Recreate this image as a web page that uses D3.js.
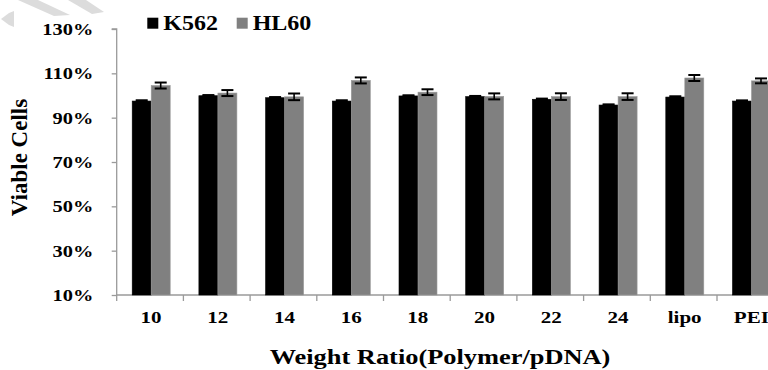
<!DOCTYPE html>
<html>
<head>
<meta charset="utf-8">
<script src="https://cdn.jsdelivr.net/npm/d3@7"></script>
<style>
  html, body { margin: 0; padding: 0; background: #fff; }
  svg { display: block; }
</style>
</head>
<body>
<svg id="chart" width="768" height="370"></svg>
<script>
// ---- data ----
const categories = ["10", "12", "14", "16", "18", "20", "22", "24", "lipo", "PEI"];
const seriesNames = ["K562", "HL60"];
const k562 = [97.5, 99.9, 99.0, 97.5, 99.8, 99.5, 98.3, 95.7, 99.3, 97.5];
const k562Err = [0.35, 0.3, 0.3, 0.35, 0.3, 0.3, 0.3, 0.3, 0.35, 0.3];
const hl60 = [104.5, 101.1, 99.4, 106.8, 101.5, 99.6, 99.5, 99.5, 107.9, 106.6];
const hl60Err = [1.35, 1.35, 1.5, 1.35, 1.3, 1.35, 1.5, 1.5, 1.35, 1.1];
const yTicks = [10, 30, 50, 70, 90, 110, 130];
const xTitle = "Weight Ratio(Polymer/pDNA)";
const yTitle = "Viable Cells";

const colors = { K562: "#000000", HL60: "#808080" };
const SX = 1.2; // horizontal stretch of the reference's texts
const FONT = "'Liberation Serif', 'Times New Roman', Times, 'DejaVu Serif', serif";

const svg = d3.select("#chart");

// faint watermark shapes at top-left
const wm = svg.append("g").attr("fill", "#dcdcdc");
wm.append("polygon").attr("points", "18,0 38,0 70,15 54,16");
wm.append("polygon").attr("points", "68,0 86,0 104,12 92,14");
wm.append("polygon").attr("points", "14,11 14,27 9,25 1,19 9,13");

const x0 = d3.scaleBand().domain(categories).range([116.7, 116.7 + 66.7 * categories.length]).padding(0);
const x1 = d3.scaleBand().domain(seriesNames).range([15.5, 53.5]).padding(0);
const y = d3.scaleLinear().domain([10, 130]).range([295, 29]);

const axisColor = "#9a9a9a";

// y axis
const yAxis = svg.append("g").attr("transform", "translate(116.7,0)")
  .call(d3.axisLeft(y).tickValues(yTicks).tickSize(5).tickFormat(() => ""));
yAxis.select(".domain").attr("stroke", axisColor).attr("stroke-width", 1.3).attr("d", `M-5,${y(130)}H0V${y(10)}`);
yAxis.selectAll(".tick line").attr("stroke", axisColor).attr("stroke-width", 1.3);

// x axis
const xAxis = svg.append("g").attr("transform", "translate(0,295)")
  .call(d3.axisBottom(x0).tickSize(0).tickFormat(() => ""));
xAxis.select(".domain").attr("stroke", axisColor).attr("stroke-width", 1.3).attr("d", `M${x0.range()[0]},0H${x0.range()[1]}`);
xAxis.selectAll(".tick line").remove();
const boundaries = categories.map(c => x0(c));
xAxis.selectAll(".bnd").data(boundaries).join("line").attr("class", "bnd")
  .attr("x1", d => d).attr("x2", d => d).attr("y1", 0).attr("y2", 6)
  .attr("stroke", axisColor).attr("stroke-width", 1.3);

// stretched text helper
function stext(parent, x, yy, str, size, anchor) {
  const g = parent.append("g").attr("transform", `translate(${x},${yy}) scale(${SX},1)`);
  g.append("text").attr("text-anchor", anchor || "start")
    .style("font-family", FONT).style("font-weight", "bold")
    .style("font-size", size + "px").attr("fill", "#000").text(str);
  return g;
}

// y tick labels
yTicks.forEach(t => stext(svg, 93.3, y(t) + 6, t + "%", 17, "end"));

// x tick labels
categories.forEach(c => stext(svg, x0(c) + x0.bandwidth() / 2 + 1, 323, c, 17.5, "middle"));

// bars
const rows = categories.map((c, i) => ({ cat: c, vals: [
  { s: "K562", v: k562[i], e: k562Err[i] },
  { s: "HL60", v: hl60[i], e: hl60Err[i] }
]}));

const groups = svg.append("g").selectAll("g").data(rows).join("g")
  .attr("transform", d => `translate(${x0(d.cat)},0)`);

groups.selectAll("rect").data(d => d.vals).join("rect")
  .attr("x", d => x1(d.s))
  .attr("y", d => y(d.v))
  .attr("width", x1.bandwidth())
  .attr("height", d => y(10) - y(d.v))
  .attr("fill", d => colors[d.s])
  .attr("stroke", d => d.s === "HL60" ? "#9a9a9a" : "#000")
  .attr("stroke-width", 0.6);

// error bars
const eb = groups.selectAll("g.err").data(d => d.vals).join("g").attr("class", "err")
  .attr("transform", d => `translate(${x1(d.s) + x1.bandwidth() / 2},0)`);
eb.append("line").attr("x1", 0).attr("x2", 0)
  .attr("y1", d => y(d.v + d.e)).attr("y2", d => y(d.v - d.e))
  .attr("stroke", "#000").attr("stroke-width", 1.6);
eb.append("line").attr("x1", -6).attr("x2", 6)
  .attr("y1", d => y(d.v + d.e)).attr("y2", d => y(d.v + d.e))
  .attr("stroke", "#000").attr("stroke-width", 2);
eb.append("line").attr("x1", -6).attr("x2", 6)
  .attr("y1", d => y(d.v - d.e)).attr("y2", d => y(d.v - d.e))
  .attr("stroke", "#000").attr("stroke-width", 2);

// legend
const legendX = [147.3, 236.7];
seriesNames.forEach((s, i) => {
  svg.append("rect").attr("x", legendX[i]).attr("y", 17.7).attr("width", 11).attr("height", 11)
    .attr("fill", colors[s]);
  stext(svg, legendX[i] + 16, 30, s, 20, "start");
});

// axis titles
stext(svg, 440, 364, xTitle, 22, "middle");
svg.append("text")
  .attr("transform", "translate(26.5,157.5) rotate(-90)")
  .attr("text-anchor", "middle")
  .style("font-family", FONT).style("font-weight", "bold")
  .style("font-size", "23px").attr("fill", "#000")
  .text(yTitle);
</script>
</body>
</html>
